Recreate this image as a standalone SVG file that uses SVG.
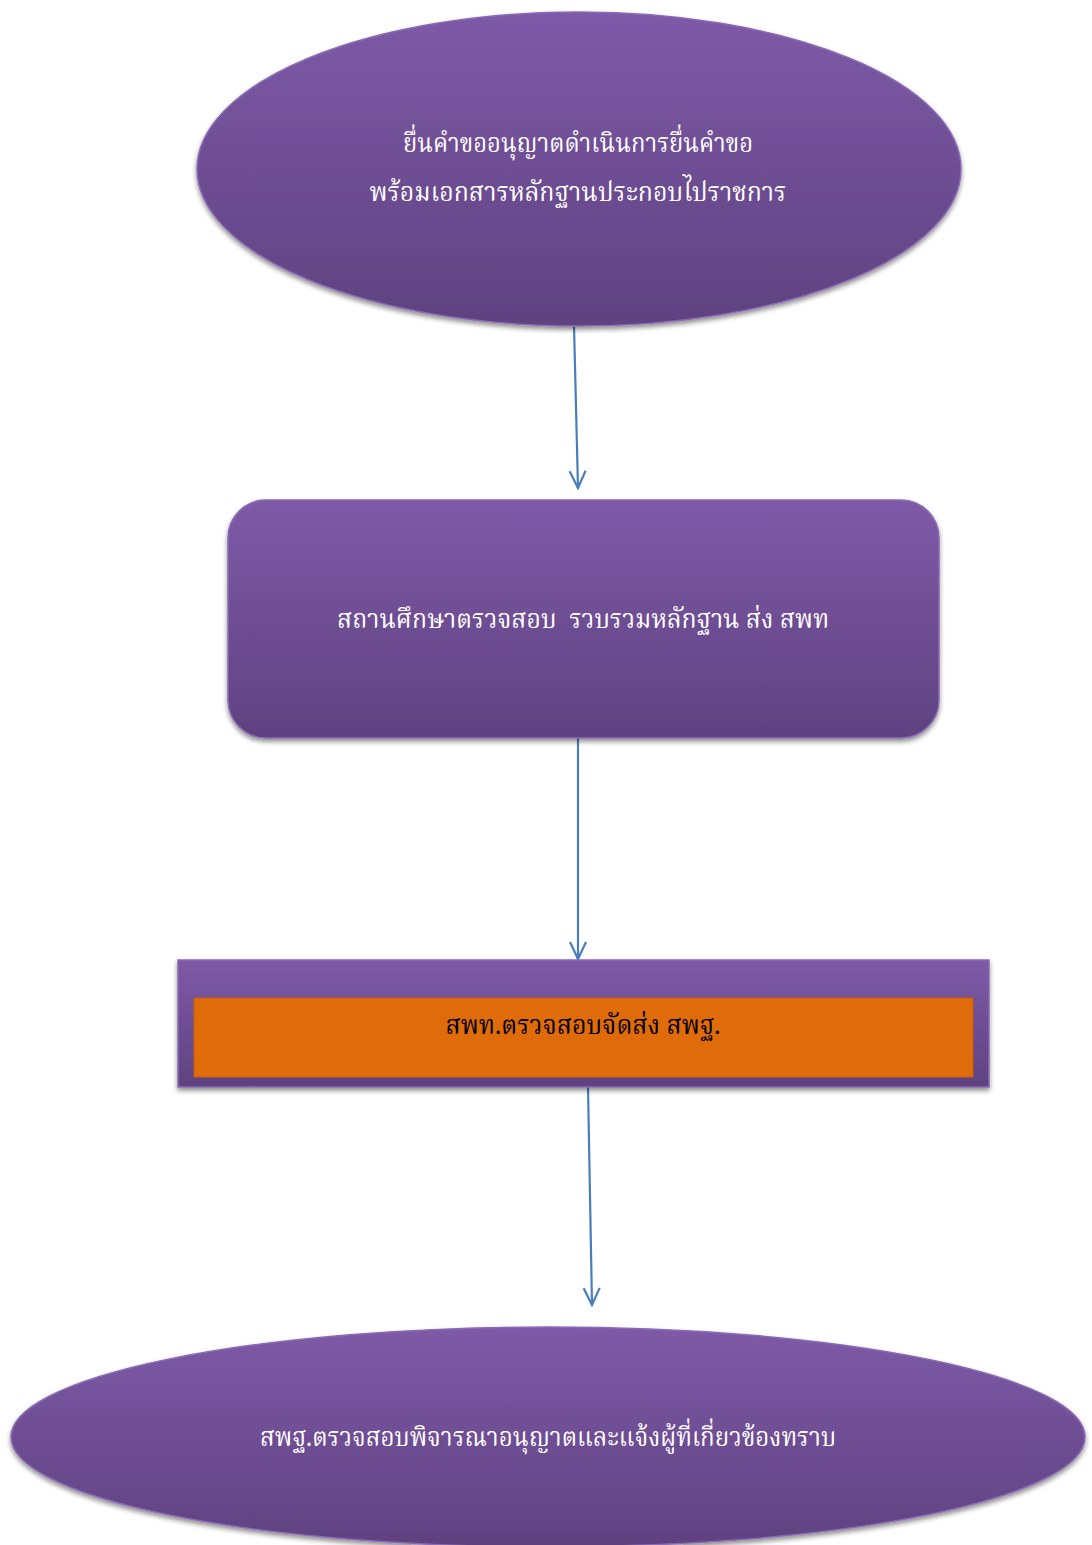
<svg xmlns="http://www.w3.org/2000/svg" width="1092" height="1545" viewBox="0 0 1092 1545">
<defs>
<linearGradient id="purp" x1="0" y1="0" x2="0" y2="1">
<stop offset="0" stop-color="#7e5aa8"/>
<stop offset="1" stop-color="#5f4280"/>
</linearGradient>
<filter id="sh" x="-10%" y="-10%" width="120%" height="130%">
<feGaussianBlur in="SourceAlpha" stdDeviation="2.5"/>
<feOffset dx="0" dy="3" result="b"/>
<feComponentTransfer><feFuncA type="linear" slope="0.45"/></feComponentTransfer>
<feMerge><feMergeNode/><feMergeNode in="SourceGraphic"/></feMerge>
</filter>
<marker id="arr" markerWidth="20" markerHeight="20" refX="18" refY="10" orient="auto" markerUnits="userSpaceOnUse" viewBox="0 0 20 20">
<path d="M1,2 L18,10 L1,18" fill="none" stroke="#4a7ebb" stroke-width="2.2"/>
</marker>
</defs>
<style>
.shape{fill:url(#purp);stroke:#8a6bb4;stroke-width:1.5;filter:url(#sh)}
.conn{stroke:#4a7ebb;stroke-width:2.2;fill:none;marker-end:url(#arr)}
.t{font-family:"Noto Serif Thai","Noto Sans Thai","Liberation Serif",serif;font-size:26px;text-anchor:middle;fill:#ffffff;white-space:pre}
.tb{font-family:"Noto Serif Thai","Noto Sans Thai","Liberation Serif",serif;font-size:26px;text-anchor:middle;fill:#000000}
</style>
<rect x="0" y="0" width="1092" height="1545" fill="#ffffff"/>
<g id="connectors">
<line class="conn" x1="574" y1="326" x2="578" y2="488"/>
<line class="conn" x1="578" y1="738" x2="578" y2="959"/>
<line class="conn" x1="588" y1="1087" x2="592" y2="1305"/>
</g>
<g id="node1">
<ellipse class="shape" cx="579" cy="169" rx="382" ry="157"/>
<text class="t" x="578" y="152" textLength="350" lengthAdjust="spacingAndGlyphs">ยื่นคำขออนุญาตดำเนินการยื่นคำขอ</text>
<text class="t" x="578" y="201" textLength="417" lengthAdjust="spacingAndGlyphs">พร้อมเอกสารหลักฐานประกอบไปราชการ</text>
</g>
<g id="node2">
<rect class="shape" x="228" y="500" width="711" height="238" rx="38" ry="38"/>
<text class="t" x="583" y="628" textLength="492" lengthAdjust="spacingAndGlyphs" xml:space="preserve">สถานศึกษาตรวจสอบ  รวบรวมหลักฐาน ส่ง สพท</text>
</g>
<g id="node3">
<rect class="shape" x="178" y="960" width="811" height="127"/>
<rect x="194" y="998" width="779" height="79" fill="#e06b0a" stroke="#c85e08" stroke-width="1"/>
<text class="tb" x="583" y="1034" textLength="275" lengthAdjust="spacingAndGlyphs">สพท.ตรวจสอบจัดส่ง สพฐ.</text>
</g>
<g id="node4">
<ellipse class="shape" cx="548" cy="1437" rx="537" ry="110"/>
<text class="t" x="548" y="1446" textLength="576" lengthAdjust="spacingAndGlyphs">สพฐ.ตรวจสอบพิจารณาอนุญาตและแจ้งผู้ที่เกี่ยวข้องทราบ</text>
</g>
</svg>
